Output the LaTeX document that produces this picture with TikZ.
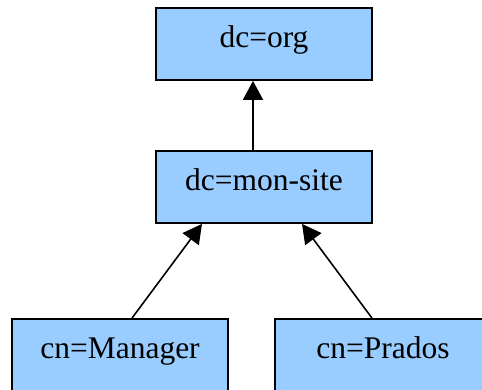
\documentclass[tikz,border=0pt]{standalone}
\usepackage{fontspec}
\setmainfont{Liberation Serif}
\usetikzlibrary{arrows.meta}
\definecolor{boxblue}{HTML}{99CCFF}
\begin{document}
\begin{tikzpicture}[x=1pt,y=-1pt,
  entry/.style={draw=black, line width=1.8pt, fill=boxblue, rectangle,
    minimum width=216pt, minimum height=72pt, inner sep=0pt,
    font=\fontsize{31.5}{36}\selectfont, text height=21.5pt, text depth=14pt},
  link/.style={line width=1.6pt, -{Triangle[length=19pt,width=20pt]}}]
\useasboundingbox (0,0) rectangle (482,389);
\clip (0,0) rectangle (482,389);
\fill[white] (0,0) rectangle (482,389);
\node[entry] (org) at (264,44) {dc=org};
\node[entry] (site) at (264,187) {dc=mon-site};
\node[entry] (mgr) at (120,355) {cn=Manager};
\node[entry] (prados) at (383,355) {cn=Prados};
\draw[link] ([xshift=-11pt]site.north) -- ([xshift=-11pt]org.south);
\draw[link] ([xshift=12pt]mgr.north) -- ([xshift=-62pt]site.south);
\draw[link] ([xshift=-11pt]prados.north) -- ([xshift=38pt]site.south);
\end{tikzpicture}
\end{document}
